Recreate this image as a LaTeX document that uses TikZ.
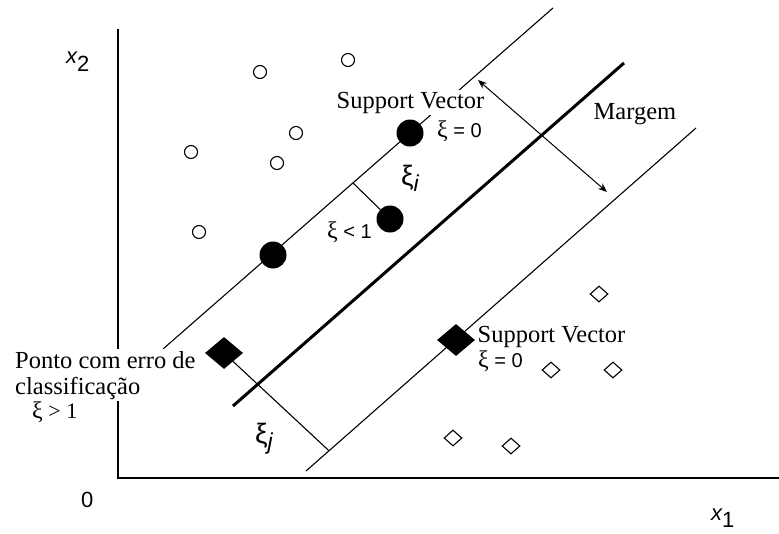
\documentclass[tikz,border=0pt]{standalone}
\usepackage{fontspec}
\setmainfont{Liberation Serif}
\newfontfamily\sansf{Liberation Sans}
\newcommand{\bxi}{{\fontsize{24}{24}\selectfont ξ}}
\usetikzlibrary{arrows.meta,shapes.geometric,calc}
\begin{document}
\begin{tikzpicture}[x=1pt,y=-1pt,
  axis/.style={line width=2.5pt},
  hyper/.style={line width=3pt},
  marginline/.style={line width=1.1pt},
  slack/.style={line width=1.1pt},
  opencirc/.style={circle,draw,line width=1.1pt,minimum size=13pt,inner sep=0pt},
  fullcirc/.style={circle,fill=black,minimum size=27pt,inner sep=0pt},
  opendiam/.style={diamond,draw,line width=1.1pt,minimum width=18pt,minimum height=16pt,inner sep=0pt},
  fulldiam/.style={diamond,fill=black,minimum width=38pt,minimum height=32pt,inner sep=0pt},
  serifbig/.style={font=\fontsize{24.5}{26}\selectfont,inner sep=1.5pt},
  smalllab/.style={font=\fontsize{20}{22}\selectfont,inner sep=0pt},
  sanslab/.style={font=\sansf\fontsize{22}{24}\selectfont,inner sep=0pt},
  bigxi/.style={font=\sansf\fontsize{28}{30}\selectfont,inner sep=0pt}
]
\useasboundingbox (0,0) rectangle (779,533);

% axes
\coordinate (ytop) at (118,29);
\coordinate (O) at (118,478);
\coordinate (xend) at (779,478);
\draw[axis] (ytop) -- (O) -- (xend);

% lines
\coordinate (u1) at (163,349); \coordinate (u2) at (553,8);
\coordinate (m1) at (233,406); \coordinate (m2) at (624,63);
\coordinate (l1) at (306,471); \coordinate (l2) at (696,128);
\draw[marginline] (u1) -- (u2);
\draw[hyper] (m1) -- (m2);
\draw[marginline] (l1) -- (l2);

% open circles
\node[opencirc] (o1) at (348,60) {};
\node[opencirc] (o2) at (260,72) {};
\node[opencirc] (o3) at (296,133) {};
\node[opencirc] (o4) at (191,152) {};
\node[opencirc] (o5) at (277,163) {};
\node[opencirc] (o6) at (199,232) {};

% filled circles
\node[fullcirc] (c1) at (410,133) {};
\node[fullcirc] (c2) at (390,219) {};
\node[fullcirc] (c3) at (273,255) {};

% open diamonds
\node[opendiam] (d3) at (599,294) {};
\node[opendiam] (d4) at (551,370) {};
\node[opendiam] (d5) at (613,370) {};
\node[opendiam] (d6) at (453,438) {};
\node[opendiam] (d7) at (511,446) {};

% filled diamonds
\node[fulldiam] (d1) at (224,353) {};
\node[fulldiam] (d2) at (456,340) {};

% slack connectors
\coordinate (si) at ($(u1)!0.487!(u2)$);
\draw[slack] (si) -- (c2);
\coordinate (sj) at ($(l1)!0.059!(l2)$);
\draw[slack] (d1) -- (sj);

% margin arrow
\coordinate (ma) at (478,80);
\coordinate (mb) at (607,192);
\draw[line width=1pt,{Stealth[length=9pt,width=7pt,inset=3pt]}-{Stealth[length=9pt,width=7pt,inset=3pt]}] (ma) -- (mb);

% texts
\node[serifbig,fill=white,anchor=base west] (sv1) at (335,108) {Support Vector};
\node[smalllab,anchor=base west] (xa) at (437,137) {\bxi{\sansf\ =\ 0}};
\node[bigxi,anchor=base west] (xii) at (401,185) {ξ\raisebox{-6pt}{\itshape\fontsize{23}{24}\selectfont i}};
\node[smalllab,anchor=base west] (xl) at (327,238) {\bxi{\sansf\ <\ 1}};
\node[serifbig,anchor=base west] (mg) at (592,119) {Margem};
\node[serifbig,fill=white,align=left,anchor=north west,inner sep=2pt] (pe) at (13,349) {Ponto com erro de\\classificação};
\node[font=\fontsize{22}{24}\selectfont,inner sep=0pt,anchor=base west] (xg) at (32,418) {\bxi\ >\ 1};
\node[bigxi,anchor=base west] (xij) at (255,443) {ξ\raisebox{-6pt}{\itshape\fontsize{23}{24}\selectfont j}};
\node[serifbig,anchor=base west] (sv2) at (476,342) {Support Vector};
\node[smalllab,anchor=base west] (xb) at (478,367) {\bxi{\sansf\ =\ 0}};
\node[sanslab,anchor=base west] (x2) at (66,63) {\itshape x\raisebox{-8pt}{\upshape 2}};
\node[sanslab,anchor=base west] (zero) at (81,507) {0};
\node[sanslab,anchor=base west] (x1) at (711,520) {\itshape x\raisebox{-7pt}{\upshape 1}};
\end{tikzpicture}
\end{document}
